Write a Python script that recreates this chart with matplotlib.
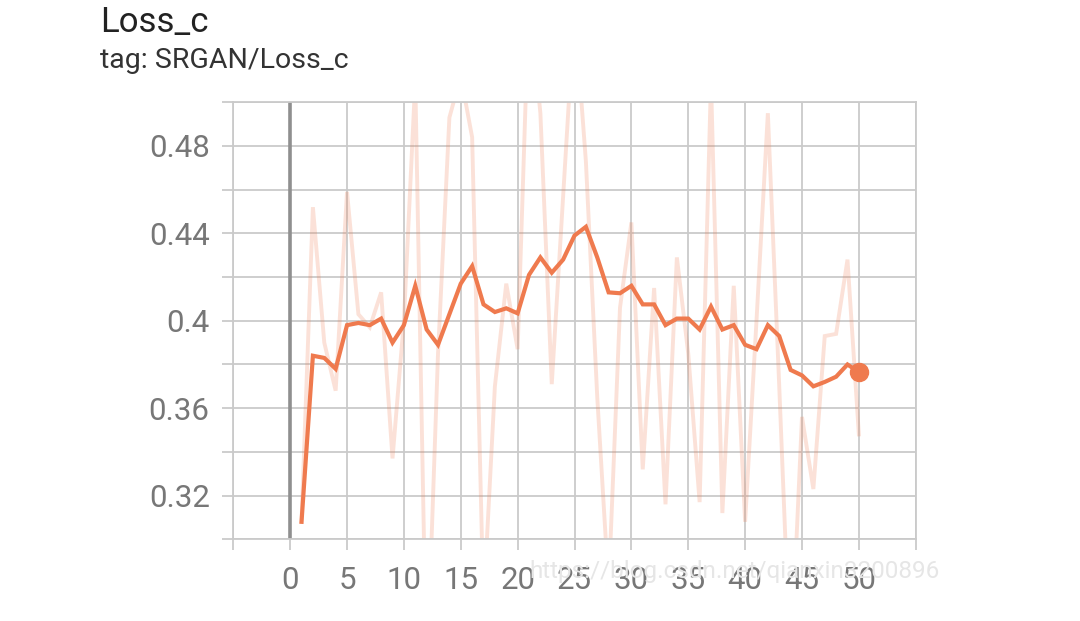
import numpy as np
import matplotlib
matplotlib.use("Agg")
import matplotlib.pyplot as plt

# steps and values
steps = list(range(1, 51))
raw = [0.308, 0.452, 0.390, 0.368, 0.459, 0.403, 0.397, 0.413, 0.337, 0.400,
       0.510, 0.235, 0.385, 0.493, 0.512, 0.484, 0.270, 0.370, 0.417, 0.387,
       0.549, 0.495, 0.371, 0.457, 0.543, 0.473, 0.365, 0.278, 0.406, 0.445,
       0.332, 0.415, 0.316, 0.429, 0.385, 0.317, 0.510, 0.312, 0.416, 0.308,
       0.400, 0.495, 0.370, 0.240, 0.356, 0.323, 0.393, 0.394, 0.428, 0.348]
smoothed = [0.308, 0.384, 0.383, 0.378, 0.398, 0.399, 0.398, 0.401, 0.390, 0.398,
            0.416, 0.396, 0.389, 0.403, 0.417, 0.425, 0.4075, 0.404, 0.4057, 0.4034,
            0.421, 0.429, 0.422, 0.428, 0.439, 0.443, 0.429, 0.413, 0.4126, 0.416,
            0.4075, 0.4075, 0.398, 0.401, 0.401, 0.396, 0.4065, 0.396, 0.398, 0.389,
            0.387, 0.398, 0.393, 0.3775, 0.375, 0.370, 0.372, 0.3744, 0.380, 0.3765]

yticks = [0.30, 0.32, 0.34, 0.36, 0.38, 0.40, 0.42, 0.44, 0.46, 0.48, 0.50]
ylabels = ["", "0.32", "", "0.36", "", "0.4", "", "0.44", "", "0.48", ""]
xticks = [-5, 0, 5, 10, 15, 20, 25, 30, 35, 40, 45, 50, 55]
xlabels = ["", "0", "5", "10", "15", "20", "25", "30", "35", "40", "45", "50", ""]

title = "Loss_c"
subtitle = "tag: SRGAN/Loss_c"
watermark = "https://blog.csdn.net/qianxin3200896"

plt.rcParams['font.family'] = ['Roboto', 'DejaVu Sans']

orange = '#ef7a4e'
grid_c = '#cacaca'

fig = plt.figure(figsize=(10.8, 6.21), dpi=100)
ax = fig.add_axes([0.216, 0.1316, 0.6319, 0.7037])
ax.set_axisbelow(True)

ax.axvline(0, color='#8f8f8f', lw=2.6, zorder=1.5)
ax.plot(steps, raw, color=orange, alpha=0.22, lw=2.8, solid_joinstyle='miter', zorder=2)
ax.plot(steps, smoothed, color=orange, lw=3.0, solid_joinstyle='miter', zorder=3)
ax.plot(steps[-1], smoothed[-1], 'o', color=orange, ms=13, zorder=4)

ax.set_xlim(-5, 55)
ax.set_ylim(0.30, 0.50)
ax.set_xticks(xticks)
ax.set_xticklabels(xlabels)
ax.set_yticks(yticks)
ax.set_yticklabels(ylabels)
ax.grid(True, color=grid_c, lw=1.3)
for s in ax.spines.values():
    s.set_color(grid_c)
    s.set_linewidth(1.3)
ax.tick_params(axis='both', colors=grid_c, length=8, width=1.3,
               labelsize=22.5, labelcolor='#777777')
ax.tick_params(axis='y', pad=9)
ax.tick_params(axis='x', pad=11)

fig.text(0.093, 0.99, title, fontsize=25, color='#222222', va='top')
fig.text(0.093, 0.925, subtitle, fontsize=20.5, color='#333333', va='top')
fig.text(0.49, 0.079, watermark, fontsize=17.5, color='#e6e6e6', va='center')

fig.savefig("out.png", dpi=100, facecolor='white')
